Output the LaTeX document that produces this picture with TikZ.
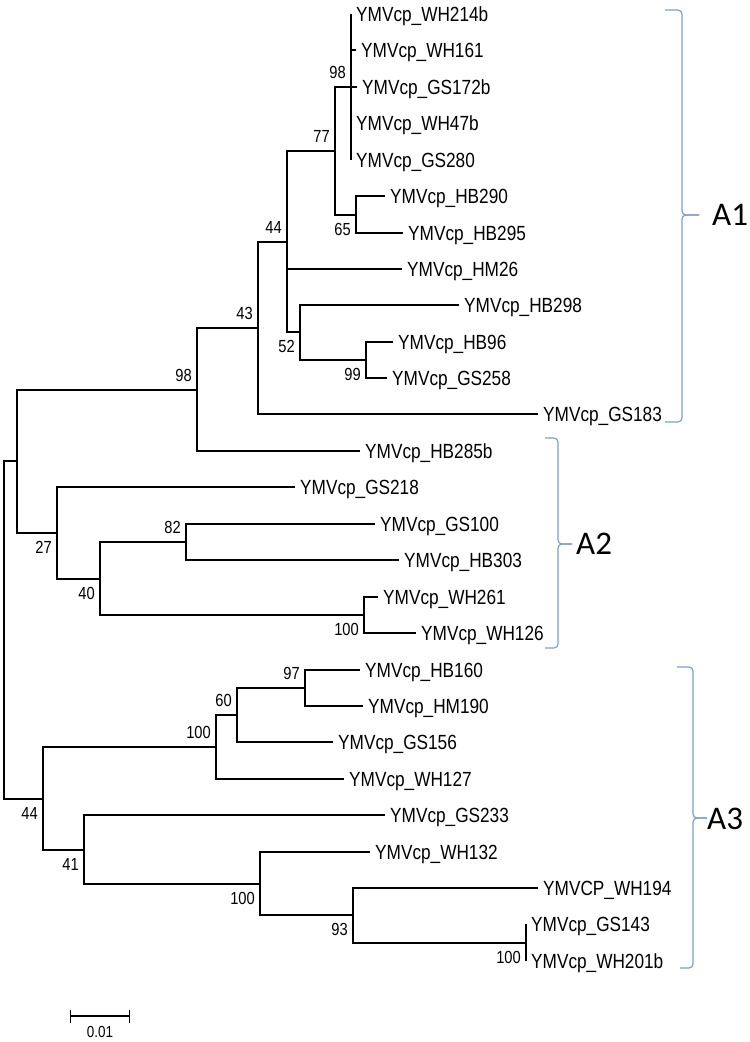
\documentclass[tikz,border=0pt]{standalone}
\usepackage{fontspec}
\setmainfont[FakeStretch=0.84]{Liberation Sans}
\newfontfamily\cladefont{Carlito}
\usepackage{tikz}
\usetikzlibrary{arrows.meta, positioning}
\definecolor{bracecol}{RGB}{127,157,201}

\begin{document}
\begin{tikzpicture}[
            x=1pt, y=-1pt,
            leaf/.style={anchor=west, inner xsep=5pt, inner ysep=0pt, text height=15pt, text depth=0pt, font=\fontsize{20.5}{23}\selectfont},
            boot/.style={inner sep=0pt, font=\fontsize{17.5}{19}\selectfont},
            bootup/.style={boot, anchor=south east, xshift=-5pt, yshift=8pt},
            bootdown/.style={boot, anchor=north east, xshift=-5pt, yshift=-8pt},
            branch/.style={line width=1.6pt},
            brace/.style={draw=bracecol, line width=1.2pt, rounded corners=4pt},
            cladename/.style={anchor=west, inner sep=0pt, font=\cladefont\fontsize{33}{36}\selectfont}
        ]
            \useasboundingbox (0,0) rectangle (750,1042);

            % leaves
            \node[leaf] (wh214b) at (351, 14) {YMVcp\_WH214b};
            \node[leaf] (wh161) at (356, 50) {YMVcp\_WH161};
            \node[leaf] (gs172b) at (357, 87) {YMVcp\_GS172b};
            \node[leaf] (wh47b) at (351, 123) {YMVcp\_WH47b};
            \node[leaf] (gs280) at (351, 160) {YMVcp\_GS280};
            \node[leaf] (hb290) at (385, 196) {YMVcp\_HB290};
            \node[leaf] (hb295) at (403, 233) {YMVcp\_HB295};
            \node[leaf] (hm26) at (402, 269) {YMVcp\_HM26};
            \node[leaf] (hb298) at (459, 305) {YMVcp\_HB298};
            \node[leaf] (hb96) at (393, 342) {YMVcp\_HB96};
            \node[leaf] (gs258) at (387, 378) {YMVcp\_GS258};
            \node[leaf] (gs183) at (538, 414) {YMVcp\_GS183};
            \node[leaf] (hb285b) at (360, 451) {YMVcp\_HB285b};
            \node[leaf] (gs218) at (295, 487) {YMVcp\_GS218};
            \node[leaf] (gs100) at (375, 524) {YMVcp\_GS100};
            \node[leaf] (hb303) at (399, 560) {YMVcp\_HB303};
            \node[leaf] (wh261) at (378, 597) {YMVcp\_WH261};
            \node[leaf] (wh126) at (416, 633) {YMVcp\_WH126};
            \node[leaf] (hb160) at (360, 670) {YMVcp\_HB160};
            \node[leaf] (hm190) at (363, 706) {YMVcp\_HM190};
            \node[leaf] (gs156) at (333, 742) {YMVcp\_GS156};
            \node[leaf] (wh127) at (344, 779) {YMVcp\_WH127};
            \node[leaf] (gs233) at (385, 815) {YMVcp\_GS233};
            \node[leaf] (wh132) at (370, 852) {YMVcp\_WH132};
            \node[leaf] (wh194) at (538, 888) {YMVCP\_WH194};
            \node[leaf] (gs143) at (526, 924) {YMVcp\_GS143};
            \node[leaf] (wh201b) at (526, 961) {YMVcp\_WH201b};

            % inner nodes
            \coordinate (n98a) at (351, 87);
            \coordinate (n65) at (356, 215);
            \coordinate (n77) at (335, 151);
            \coordinate (n99) at (366, 360);
            \coordinate (n52) at (300, 332);
            \coordinate (n44) at (287, 242);
            \coordinate (n43) at (258, 328);
            \coordinate (n98b) at (197, 390);
            \coordinate (n82) at (186, 542);
            \coordinate (n100a) at (364, 615);
            \coordinate (n40) at (100, 579);
            \coordinate (n27) at (57, 533);
            \coordinate (njoin) at (17, 461);
            \coordinate (n97) at (305, 688);
            \coordinate (n60) at (237, 715);
            \coordinate (n100b) at (216, 747);
            \coordinate (n100d) at (526, 943);
            \coordinate (n93) at (353, 915);
            \coordinate (n100c) at (260, 884);
            \coordinate (n41) at (84, 850);
            \coordinate (n44b) at (43, 799);
            \coordinate (root) at (4, 630);

            \draw[branch] (wh214b.west) -- (gs280.west);
            \draw[branch] (wh161.west) -- (wh161.west -| n98a);
            \draw[branch] (gs172b.west) -- (n98a);
            \draw[branch] (n98a) -| (n77) |- (n65);
            \draw[branch] (hb290.west) -| (n65) |- (hb295.west);
            \draw[branch] (n77) -| (n44) |- (n52);
            \draw[branch] (hm26.west) -- (hm26.west -| n44);
            \draw[branch] (hb298.west) -| (n52) |- (n99);
            \draw[branch] (hb96.west) -| (n99) |- (gs258.west);
            \draw[branch] (n44) -| (n43) |- (gs183.west);
            \draw[branch] (n43) -| (n98b) |- (hb285b.west);
            \draw[branch] (n98b) -| (njoin) |- (n27);
            \draw[branch] (gs218.west) -| (n27) |- (n40);
            \draw[branch] (n82) -| (n40) |- (n100a);
            \draw[branch] (gs100.west) -| (n82) |- (hb303.west);
            \draw[branch] (wh261.west) -| (n100a) |- (wh126.west);
            \draw[branch] (njoin) -| (root) |- (n44b);
            \draw[branch] (n100b) -| (n44b) |- (n41);
            \draw[branch] (n60) -| (n100b) |- (wh127.west);
            \draw[branch] (n97) -| (n60) |- (gs156.west);
            \draw[branch] (hb160.west) -| (n97) |- (hm190.west);
            \draw[branch] (gs233.west) -| (n41) |- (n100c);
            \draw[branch] (wh132.west) -| (n100c) |- (n93);
            \draw[branch] (wh194.west) -| (n93) |- (n100d);
            \draw[branch] (gs143.west) -- (wh201b.west);

            % bootstrap values
            \node[bootup] (b98a) at (n98a) {98};
            \node[bootup] (b77) at (n77) {77};
            \node[bootdown] (b65) at (n65) {65};
            \node[bootup] (b44) at (n44) {44};
            \node[bootdown] (b52) at (n52) {52};
            \node[bootdown] (b99) at (n99) {99};
            \node[bootup] (b43) at (n43) {43};
            \node[bootup] (b98b) at (n98b) {98};
            \node[bootdown] (b27) at (n27) {27};
            \node[bootup] (b82) at (n82) {82};
            \node[bootdown] (b40) at (n40) {40};
            \node[bootdown] (b100a) at (n100a) {100};
            \node[bootup] (b97) at (n97) {97};
            \node[bootup] (b60) at (n60) {60};
            \node[bootup] (b100b) at (n100b) {100};
            \node[bootdown] (b44b) at (n44b) {44};
            \node[bootdown] (b41) at (n41) {41};
            \node[bootdown] (b100c) at (n100c) {100};
            \node[bootdown] (b93) at (n93) {93};
            \node[bootdown] (b100d) at (n100d) {100};

            % scale bar
            \coordinate (sbl) at (70, 1016);
            \coordinate (sbr) at (130, 1016);
            \draw[line width=1.4pt, {Bar[width=13pt]}-{Bar[width=13pt]}] (sbl) -- (sbr);
            \node[boot, font=\fontsize{16}{18}\selectfont] (sblabel) at (100, 1032) {0.01};

            % clades
            \draw[brace] (665, 10) -| (682, 215) -- (699, 215);
            \draw[brace] (665, 422) -| (682, 215) -- (699, 215);
            \node[cladename] (a1) at (712, 215) {A1};

            \draw[brace] (545, 438) -| (558, 544) -- (572, 544);
            \draw[brace] (545, 648) -| (558, 544) -- (572, 544);
            \node[cladename] (a2) at (576, 544) {A2};

            \draw[brace] (677, 667) -| (693, 818) -- (707, 818);
            \draw[brace] (680, 968) -| (693, 818) -- (707, 818);
            \node[cladename] (a3) at (707, 819) {A3};
        \end{tikzpicture}
\end{document}
